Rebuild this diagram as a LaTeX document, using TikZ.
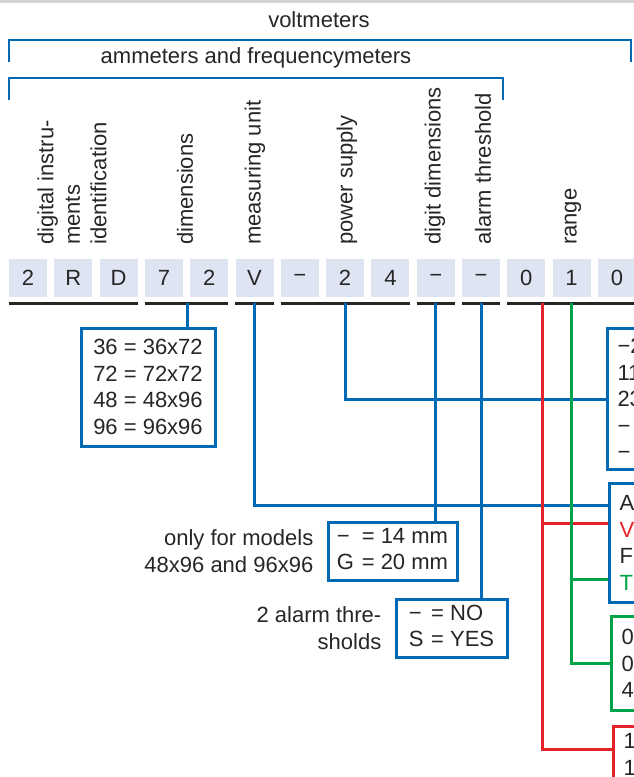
\documentclass[tikz,border=0pt]{standalone}
\usepackage{fontspec}
\setmainfont{Liberation Sans}
\usetikzlibrary{calc,positioning}
\definecolor{codeblue}{RGB}{0,105,180}
\definecolor{rangered}{RGB}{232,34,42}
\definecolor{rangegreen}{RGB}{0,163,72}
\definecolor{digitfill}{RGB}{222,228,242}
\definecolor{topgray}{RGB}{212,212,212}
\tikzset{
  txt/.style={font=\fontsize{22}{26.5}\selectfont, inner sep=0pt, text=black!85},
  digit/.style={txt, fill=digitfill, minimum width=38, minimum height=38},
  field/.style={txt, rotate=90, anchor=west, align=left},
  bracket/.style={codeblue, line width=2.8pt},
  underline/.style={black!85, line width=3pt},
  link/.style={codeblue, line width=3pt},
  redlink/.style={link, draw=rangered},
  greenlink/.style={link, draw=rangegreen},
  optbox/.style={txt, draw=codeblue, line width=3pt, fill=white, align=left},
  sidebox/.style={optbox, anchor=north west, inner xsep=8pt,
                  text width=90pt, minimum width=110},
  note/.style={txt, align=right},
}

\begin{document}
\begin{tikzpicture}[x=1pt,y=-1pt]
  \useasboundingbox (0,0) rectangle (634,777);
  \clip (0,0) rectangle (634,777);
  \fill[topgray] (0,0) rectangle (634,3);

  % Families covered by the code.
  \node[txt] (volt) at (319,20) {voltmeters};
  \draw[bracket] (9,62) -- (9,40) -- (631,40) -- (631,62);
  \node[txt] (amm) at (256,58) {ammeters and frequencymeters};
  \draw[bracket] (9,100) -- (9,78) -- (503,78) -- (503,100);

  % Field names.
  \node[field] (fid) at (72,245) {digital instru-\\ments\\identification};
  \node[field] (fdim) at (185,245) {dimensions};
  \node[field] (funit) at (255,245) {measuring unit};
  \node[field] (fsup) at (347,245) {power supply};
  \node[field] (fdig) at (435,245) {digit dimensions};
  \node[field] (falarm) at (483,245) {alarm threshold};
  \node[field] (frange) at (573,245) {range};

  % Order code.
  \foreach \ch [count=\i from 0] in {2,R,D,7,2,V,−,2,4,−,−,0,1,0}
    \node[digit] (c\i) at (28+45.3*\i,278) {\ch};

  \coordinate (ul) at (0,303);
  \foreach \a/\b in {0/2,3/4,5/5,6/8,9/9,10/10,11/13}
    \draw[underline] (c\a.west |- ul) -- (c\b.east |- ul);

  \coordinate (dimtap) at (187,303);
  \coordinate (unittap) at (c5 |- ul);
  \coordinate (suptap) at (c7 |- ul);
  \coordinate (digtap) at (c9 |- ul);
  \coordinate (alarmtap) at (c10 |- ul);
  \coordinate (redtap) at (542,303);
  \coordinate (greentap) at (c12 |- ul);

  % Option boxes.
  \node[optbox, minimum width=134, minimum height=118] (dimbox) at (148,387)
    {36 = 36x72\\72 = 72x72\\48 = 48x96\\96 = 96x96};
  \node[sidebox, minimum height=141] (supbox) at (606,327)
    {−24\\115\\230\\−\\−};
  \node[sidebox, minimum height=119] (unitbox) at (608,482)
    {A\\\textcolor{rangered}{V}\\F\\\textcolor{rangegreen}{T}};
  \node[sidebox, draw=rangegreen, minimum height=94] (greenbox) at (610,615)
    {00\\01\\42};
  \node[sidebox, draw=rangered, minimum height=56] (redbox) at (612,725)
    {1\\1};
  \node[optbox, minimum width=129, minimum height=58] (digbox) at (392.5,551)
    {\begin{tabular}{@{}l@{\hspace{0.35em}}l@{}}−&= 14 mm\\G&= 20 mm\end{tabular}};
  \node[optbox, minimum width=111, minimum height=58] (alarmbox) at (451.5,628)
    {\begin{tabular}{@{}l@{\hspace{0.35em}}l@{}}−&= NO\\S&= YES\end{tabular}};
  \node[note, left=13pt of digbox] (dignote) {only for models\\48x96 and 96x96};
  \node[note, left=13pt of alarmbox] (alarmnote) {2 alarm thre-\\sholds};

  \coordinate (unitA) at ($(unitbox.north west)+(0,23)$);
  \coordinate (unitV) at ($(unitbox.north west)+(0,41)$);
  \coordinate (unitT) at ($(unitbox.north west)+(0,97)$);
  \coordinate (redin) at ($(redbox.north west)+(0,24)$);

  % Connectors.
  \draw[link] (dimtap) -- (dimtap |- dimbox.north);
  \draw[link] (suptap) |- (supbox.west);
  \draw[link] (unittap) |- (unitA);
  \draw[link] (digtap) -- (digtap |- digbox.north);
  \draw[link] (alarmtap) -- (alarmtap |- alarmbox.north);
  \draw[redlink] (redtap) |- (unitV);
  \draw[redlink] (redtap) |- (redin);
  \draw[greenlink] (greentap) |- (unitT);
  \draw[greenlink] (greentap) |- (greenbox.west);
\end{tikzpicture}
\end{document}
